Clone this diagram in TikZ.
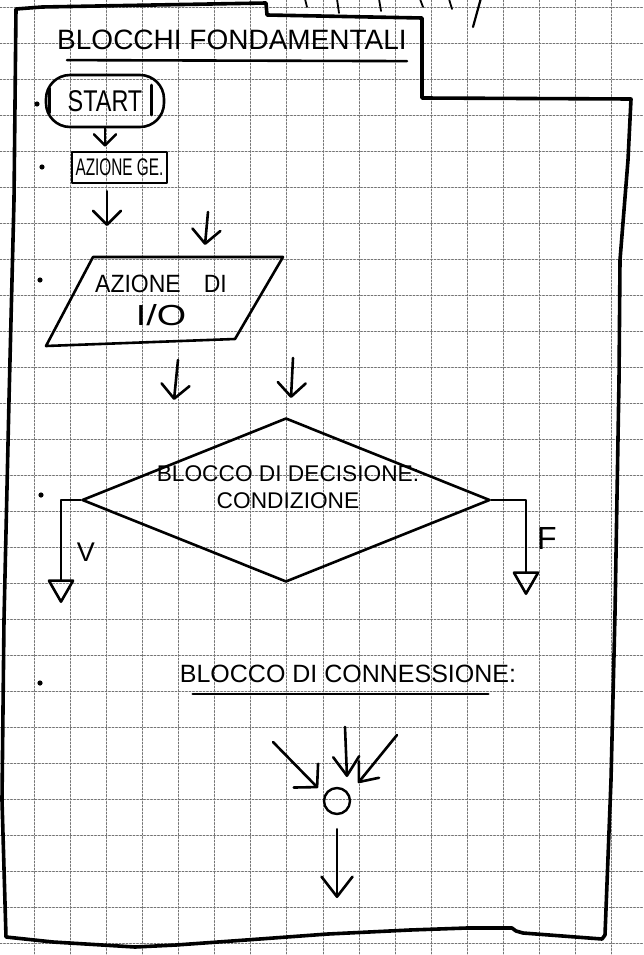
\documentclass[tikz,border=0pt]{standalone}
\usepackage{fontspec}
\setmainfont{Liberation Sans}
\usetikzlibrary{arrows.meta,shapes.geometric}
\newcommand{\squeezed}[2]{\scalebox{#1}[1]{#2}}

\begin{document}
\begin{tikzpicture}[x=1pt,y=-1pt,line cap=round,line join=round]
  \tikzset{
    ink/.style={draw=black,line width=2.6pt},
    handtext/.style={font=\fontsize{#1}{#1}\selectfont,inner sep=0pt},
    gridline/.style={draw=black!55,line width=0.8pt,dash pattern=on 2pt off 1.5pt},
    flowarrow/.style={ink,-{Straight Barb[round,length=14pt,width=28pt]}},
    exitarrow/.style={ink,-{Triangle[open,round,length=25pt,width=28pt]}},
    bulletdot/.style={fill=black}
  }
  \useasboundingbox (0,0) rectangle (643,955);
  \clip (0,0) rectangle (643,955);
  % squared paper
  \foreach \i in {0,...,17}
    \draw[gridline] ({-2+36.1*\i},0) -- ({-2+36.1*\i},955);
  \foreach \j in {0,...,26}
    \draw[gridline] (0,{7+36*\j}) -- (643,{7+36*\j});
  % page frame with the tab on top
  \draw[ink,line width=3.6pt] (16,9) -- (42,7) -- (266,3) -- (267,15) -- (422,18)
    -- (422,98) -- (631,99) -- (628,160) -- (620,260) -- (619,380) -- (615,613)
    -- (611,780) -- (605,935) -- (602,939) -- (523,933) -- (516,931) -- (512,928)
    -- (467,928) -- (410,930) -- (328,934) -- (246,940) -- (176,945) -- (135,947)
    -- (53,942) -- (6,937) -- (2,800) -- (4,620) -- (9,400) -- (14,200) -- cycle;
  % cut-off words above the tab
  \draw[ink,line width=2.2pt] (473,27) -- (481,-2);
  \draw[ink,line width=1.8pt] (305,-1) -- (307,7) (337,-1) -- (339,13)
    (379,-1) -- (381,11) (420,-1) -- (423,7) (449,-1) -- (452,9);

  % title
  \node[handtext=28pt] (title) at (232,40) {BLOCCHI FONDAMENTALI};
  \draw[ink] ([shift={(10,10)}]title.south west) -- ([shift={(0,11)}]title.south east);

  % bullets
  \foreach \y/\x in {104/37,167/42,280/40,495/41,683/40}
    \fill[bulletdot] (\x,\y) circle (2.6);

  % start and generic action
  \node[ink,rectangle,rounded corners=24pt,minimum width=118pt,minimum height=52pt,
    handtext=30pt] (start) at (105,101) {\squeezed{0.78}{START}};
  \draw[ink] (start.west) ++(5,-13) -- ++(0,25);
  \draw[ink] (start.east) ++(-14,-16) -- ++(0,30);
  \node[ink,rectangle,minimum width=95pt,minimum height=31pt,handtext=24pt]
    (azione) at (119.5,167.5) {\squeezed{0.64}{AZIONE GE.}};
  \draw[ink,-{Straight Barb[round,length=11pt,width=22pt]},shorten >=4pt]
    (start.south) -- (start.south |- azione.north);
  \coordinate (azend) at (107,226);
  \draw[flowarrow] (azione.south -| azend) ++(0,7) -- (azend);

  % input / output
  \coordinate (ioA) at (208,212);
  \coordinate (ioB) at (205,245);
  \draw[flowarrow] (ioA) -- (ioB);
  \draw[ink] (93,257) -- (283,257) -- (235,339) -- (46,346) -- cycle;
  \node[handtext=25pt,align=center] (io) at (161,300)
    {\squeezed{0.92}{AZIONE\quad DI}\\[8pt]{\fontsize{29pt}{29pt}\selectfont\squeezed{1.3}{I/O}}};
  \coordinate (d1a) at (178,360);
  \coordinate (d1b) at (174,400);
  \coordinate (d2a) at (293,358);
  \coordinate (d2b) at (291,398);
  \draw[flowarrow] (d1a) -- (d1b);
  \draw[flowarrow] (d2a) -- (d2b);

  % decision
  \node[ink,diamond,aspect=2.5,minimum width=408pt,minimum height=164pt,inner sep=0pt]
    (dec) at (286,500) {};
  \node[handtext=22.7pt,align=center] (dectext) at (288,487)
    {BLOCCO DI DECISIONE:\\[4pt]CONDIZIONE};
  \coordinate (vtip) at (61,603);
  \coordinate (ftip) at (526,595);
  \draw[exitarrow] (dec.west) -| (vtip);
  \draw[exitarrow] (dec.east) -| (ftip);
  \node[handtext=27pt] (vlab) at (86,552) {V};
  \node[handtext=32pt] (flab) at (547,538) {F};

  % connection
  \node[handtext=25pt] (conntitle) at (348,674) {BLOCCO DI CONNESSIONE:};
  \draw[ink] ([shift={(13,11)}]conntitle.south west) -- ([shift={(-28,11)}]conntitle.south east);
  \node[ink,circle,minimum size=26pt,inner sep=0pt,line width=2.4pt] (conn) at (337,801) {};
  \coordinate (c1a) at (273,742);
  \coordinate (c1b) at (318,788);
  \coordinate (c2a) at (345,727);
  \coordinate (c2b) at (347,777);
  \coordinate (c3a) at (397,735);
  \coordinate (c3b) at (358,783);
  \draw[ink,-{Straight Barb[round,length=16pt,width=34pt]}] (c1a) -- (c1b);
  \draw[ink,-{Straight Barb[round,length=19pt,width=26pt]}] (c2a) -- (c2b);
  \draw[ink,-{Straight Barb[round,length=16pt,width=26pt]}] (c3a) -- (c3b);
  \coordinate (cout) at (337,898);
  \draw[ink,-{Straight Barb[round,length=20pt,width=31pt]}] (conn.south) ++(0,14) -- (cout);
\end{tikzpicture}
\end{document}
